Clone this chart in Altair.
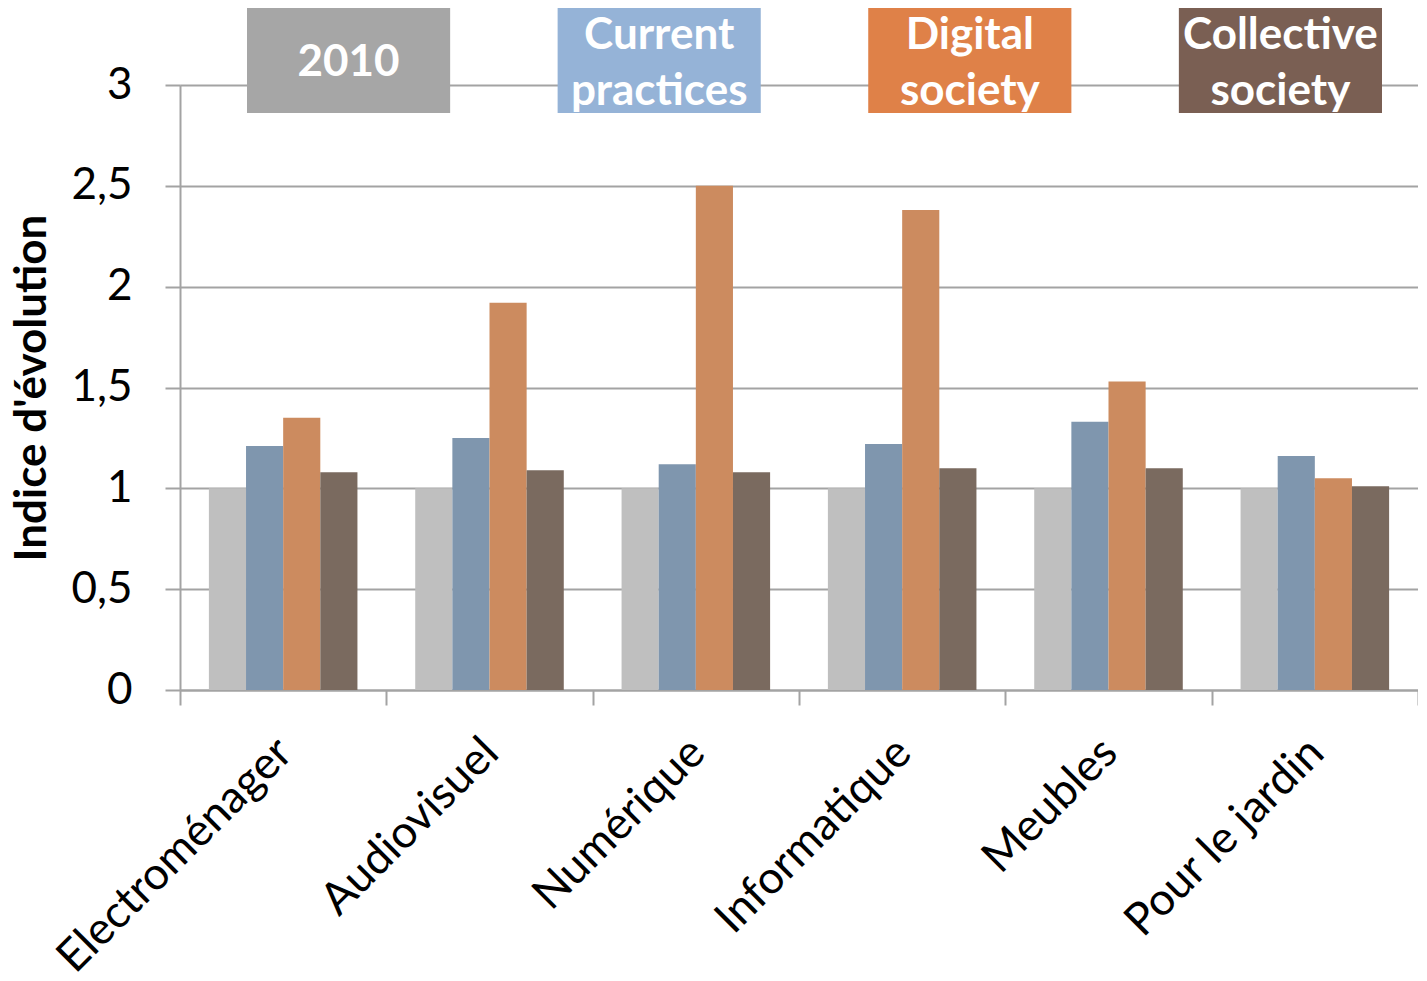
import altair as alt
import pandas as pd

categories = ["Electroménager", "Audiovisuel", "Numérique", "Informatique", "Meubles", "Pour le jardin"]
series = ["2010", "Current practices", "Digital society", "Collective society"]
v2010 = [1.0, 1.0, 1.0, 1.0, 1.0, 1.0]
current = [1.21, 1.25, 1.12, 1.22, 1.33, 1.16]
digital = [1.35, 1.92, 2.50, 2.38, 1.53, 1.05]
collective = [1.08, 1.09, 1.08, 1.10, 1.10, 1.01]
bar_colors = ["#BFBFBF", "#7F96AE", "#CC8B5F", "#7A6A5F"]
box_colors = ["#A6A6A6", "#95B3D7", "#DF8148", "#7A5F53"]
legend_line1 = ["2010", "Current", "Digital", "Collective"]
legend_line2 = ["", "practices", "society", "society"]
y_ticks = [0, 0.5, 1, 1.5, 2, 2.5, 3]

rows = []
for s, vals in zip(series, [v2010, current, digital, collective]):
    for c, v in zip(categories, vals):
        rows.append({"category": c, "series": s, "value": v})
df = pd.DataFrame(rows)

leg = pd.DataFrame({"series": series, "box": box_colors,
                    "l1": legend_line1, "l2": legend_line2,
                    "n": [1 if l == "" else 2 for l in legend_line2]})

FONT = "Lato"
GRID = "#A3A3A3"

bars = alt.Chart(df).mark_bar().encode(
    x=alt.X("category:N", sort=categories, title=None,
            scale=alt.Scale(paddingInner=0, paddingOuter=0),
            axis=alt.Axis(labelAngle=-45, labelAlign="right", labelBaseline="middle",
                          labelFontSize=45, labelFont=FONT, labelColor="black",
                          labelLimit=1000, labelPadding=40, labelOffset=1, tickBand="extent",
                          tickSize=15, tickColor=GRID, tickWidth=2, grid=False,
                          domainColor=GRID, domainWidth=2)),
    xOffset=alt.XOffset("series:N", sort=series,
                        scale=alt.Scale(paddingInner=0, paddingOuter=0.778)),
    y=alt.Y("value:Q", scale=alt.Scale(domain=[0, 3], nice=False),
            title="Indice d'évolution",
            axis=alt.Axis(values=y_ticks,
                          labelExpr="replace(toString(datum.value), '.', ',')",
                          labelFontSize=44, labelFont=FONT, labelColor="black",
                          labelPadding=33, tickSize=15, tickColor=GRID, tickWidth=2,
                          gridColor=GRID, gridWidth=2, domainColor=GRID, domainWidth=2,
                          titleFont=FONT, titleFontSize=44, titleFontWeight="bold",
                          titleColor="black", titlePadding=16)),
    color=alt.Color("series:N", scale=alt.Scale(domain=series, range=bar_colors), legend=None),
)

legx = alt.X("series:N", sort=series, title=None, axis=None,
             scale=alt.Scale(range=[67, 1202], paddingInner=0.346, paddingOuter=0))

base_leg = alt.Chart(leg)
boxes = base_leg.mark_rect().encode(
    x=legx, y=alt.value(-77), y2=alt.value(28),
    color=alt.Color("box:N", scale=None),
)
txt_style = dict(font=FONT, fontWeight="bold", fontSize=44, color="white", baseline="middle", align="center")
t_single = base_leg.transform_filter("datum.n == 1").mark_text(**txt_style).encode(
    x=legx, y=alt.value(-22), text="l1:N")
t_top = base_leg.transform_filter("datum.n == 2").mark_text(**txt_style).encode(
    x=legx, y=alt.value(-49), text="l1:N")
t_bot = base_leg.transform_filter("datum.n == 2").mark_text(**txt_style).encode(
    x=legx, y=alt.value(7), text="l2:N")

legend_layer = alt.layer(boxes, t_single, t_top, t_bot)

chart = alt.layer(bars, legend_layer).resolve_scale(x="independent", color="independent").properties(
    width=1238, height=605,
    padding={"left": 172, "top": 77, "right": 0, "bottom": 282},
    autosize=alt.AutoSizeParams(type="none"),
).configure_view(stroke=GRID, strokeWidth=2).configure(background="white")

chart.save("out.html", embed_options={"renderer": "svg", "actions": False})
